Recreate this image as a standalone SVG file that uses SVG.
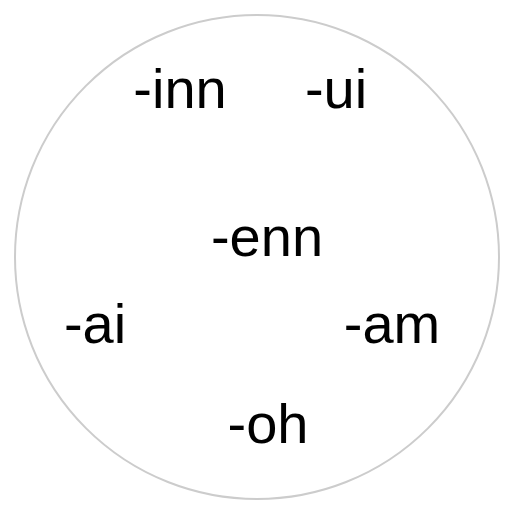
<svg xmlns="http://www.w3.org/2000/svg" width="511" height="510" viewBox="0 0 511 510">
<style>
.t{font-family:"Liberation Sans",Arial,sans-serif;font-size:56px;fill:#000;text-anchor:middle}
</style>
<rect width="511" height="510" fill="#fff"/>
<g id="circle"><circle cx="257" cy="257" r="242" fill="none" stroke="#cccccc" stroke-width="2"/></g>
<g id="connectors"></g>
<g id="n-inn"><text class="t" x="180" y="108">-inn</text></g>
<g id="n-ui"><text class="t" x="336" y="108">-ui</text></g>
<g id="n-enn"><text class="t" x="267" y="256">-enn</text></g>
<g id="n-ai"><text class="t" x="95" y="343">-ai</text></g>
<g id="n-am"><text class="t" x="392" y="343">-am</text></g>
<g id="n-oh"><text class="t" x="268" y="443">-oh</text></g>
</svg>
